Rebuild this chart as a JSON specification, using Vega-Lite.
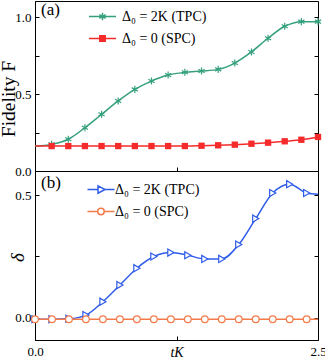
{
  "$schema": "https://vega.github.io/schema/vega-lite/v6.json",
  "padding": {"left": -3, "top": 0, "right": 0, "bottom": 0},
  "spacing": 0,
  "bounds": "flush",
  "config": {
    "font": "Liberation Serif",
    "view": {"stroke": "black", "strokeWidth": 1},
    "axis": {
      "domainColor": "black", "tickColor": "black", "labelColor": "black", "titleColor": "black",
      "labelFont": "Liberation Serif", "titleFont": "Liberation Serif", "labelFontSize": 13,
      "grid": false, "tickSize": -4, "labelPadding": 8, "domainWidth": 1, "tickWidth": 1,
      "titleFontWeight": "normal", "labelFlush": false
    },
    "legend": {
      "orient": "none", "padding": 0, "labelFont": "Liberation Serif", "labelFontSize": 14, "labelColor": "black",
      "titleFont": "Liberation Serif", "titleFontSize": 17, "titleFontWeight": "normal", "titleColor": "black",
      "titleOrient": "left", "titleAnchor": "start", "titleBaseline": "top", "symbolStrokeWidth": 1.5
    }
  },
  "datasets": {
    "fidelity": [
      {"t": 0, "F": 0.162, "series": "Δ₀ = 2K (TPC)"},
      {"t": 0.147, "F": 0.173, "series": "Δ₀ = 2K (TPC)"},
      {"t": 0.294, "F": 0.206, "series": "Δ₀ = 2K (TPC)"},
      {"t": 0.441, "F": 0.281, "series": "Δ₀ = 2K (TPC)"},
      {"t": 0.588, "F": 0.368, "series": "Δ₀ = 2K (TPC)"},
      {"t": 0.735, "F": 0.455, "series": "Δ₀ = 2K (TPC)"},
      {"t": 0.882, "F": 0.530, "series": "Δ₀ = 2K (TPC)"},
      {"t": 1.029, "F": 0.584, "series": "Δ₀ = 2K (TPC)"},
      {"t": 1.176, "F": 0.623, "series": "Δ₀ = 2K (TPC)"},
      {"t": 1.324, "F": 0.641, "series": "Δ₀ = 2K (TPC)"},
      {"t": 1.471, "F": 0.649, "series": "Δ₀ = 2K (TPC)"},
      {"t": 1.618, "F": 0.660, "series": "Δ₀ = 2K (TPC)"},
      {"t": 1.765, "F": 0.701, "series": "Δ₀ = 2K (TPC)"},
      {"t": 1.912, "F": 0.773, "series": "Δ₀ = 2K (TPC)"},
      {"t": 2.059, "F": 0.862, "series": "Δ₀ = 2K (TPC)"},
      {"t": 2.206, "F": 0.940, "series": "Δ₀ = 2K (TPC)"},
      {"t": 2.353, "F": 0.970, "series": "Δ₀ = 2K (TPC)"},
      {"t": 2.5, "F": 0.970, "series": "Δ₀ = 2K (TPC)"},
      {"t": 0, "F": 0.162, "series": "Δ₀ = 0 (SPC)"},
      {"t": 0.147, "F": 0.162, "series": "Δ₀ = 0 (SPC)"},
      {"t": 0.294, "F": 0.162, "series": "Δ₀ = 0 (SPC)"},
      {"t": 0.441, "F": 0.162, "series": "Δ₀ = 0 (SPC)"},
      {"t": 0.588, "F": 0.162, "series": "Δ₀ = 0 (SPC)"},
      {"t": 0.735, "F": 0.162, "series": "Δ₀ = 0 (SPC)"},
      {"t": 0.882, "F": 0.162, "series": "Δ₀ = 0 (SPC)"},
      {"t": 1.029, "F": 0.162, "series": "Δ₀ = 0 (SPC)"},
      {"t": 1.176, "F": 0.162, "series": "Δ₀ = 0 (SPC)"},
      {"t": 1.324, "F": 0.162, "series": "Δ₀ = 0 (SPC)"},
      {"t": 1.471, "F": 0.164, "series": "Δ₀ = 0 (SPC)"},
      {"t": 1.618, "F": 0.167, "series": "Δ₀ = 0 (SPC)"},
      {"t": 1.765, "F": 0.171, "series": "Δ₀ = 0 (SPC)"},
      {"t": 1.912, "F": 0.177, "series": "Δ₀ = 0 (SPC)"},
      {"t": 2.059, "F": 0.184, "series": "Δ₀ = 0 (SPC)"},
      {"t": 2.206, "F": 0.193, "series": "Δ₀ = 0 (SPC)"},
      {"t": 2.353, "F": 0.203, "series": "Δ₀ = 0 (SPC)"},
      {"t": 2.5, "F": 0.221, "series": "Δ₀ = 0 (SPC)"}
    ],
    "delta": [
      {"t": 0, "d": -0.007, "series": "Δ₀ = 2K  (TPC)"},
      {"t": 0.15, "d": -0.007, "series": "Δ₀ = 2K  (TPC)"},
      {"t": 0.3, "d": -0.005, "series": "Δ₀ = 2K  (TPC)"},
      {"t": 0.45, "d": 0.010, "series": "Δ₀ = 2K  (TPC)"},
      {"t": 0.6, "d": 0.065, "series": "Δ₀ = 2K  (TPC)"},
      {"t": 0.75, "d": 0.133, "series": "Δ₀ = 2K  (TPC)"},
      {"t": 0.9, "d": 0.202, "series": "Δ₀ = 2K  (TPC)"},
      {"t": 1.05, "d": 0.250, "series": "Δ₀ = 2K  (TPC)"},
      {"t": 1.2, "d": 0.266, "series": "Δ₀ = 2K  (TPC)"},
      {"t": 1.35, "d": 0.255, "series": "Δ₀ = 2K  (TPC)"},
      {"t": 1.5, "d": 0.240, "series": "Δ₀ = 2K  (TPC)"},
      {"t": 1.65, "d": 0.240, "series": "Δ₀ = 2K  (TPC)"},
      {"t": 1.8, "d": 0.299, "series": "Δ₀ = 2K  (TPC)"},
      {"t": 1.95, "d": 0.405, "series": "Δ₀ = 2K  (TPC)"},
      {"t": 2.1, "d": 0.510, "series": "Δ₀ = 2K  (TPC)"},
      {"t": 2.25, "d": 0.546, "series": "Δ₀ = 2K  (TPC)"},
      {"t": 2.4, "d": 0.510, "series": "Δ₀ = 2K  (TPC)"},
      {"t": 2.5, "d": 0.505, "series": "Δ₀ = 2K  (TPC)"},
      {"t": 0, "d": -0.007, "series": "Δ₀ = 0 (SPC)"},
      {"t": 0.15, "d": -0.007, "series": "Δ₀ = 0 (SPC)"},
      {"t": 0.3, "d": -0.007, "series": "Δ₀ = 0 (SPC)"},
      {"t": 0.45, "d": -0.007, "series": "Δ₀ = 0 (SPC)"},
      {"t": 0.6, "d": -0.007, "series": "Δ₀ = 0 (SPC)"},
      {"t": 0.75, "d": -0.007, "series": "Δ₀ = 0 (SPC)"},
      {"t": 0.9, "d": -0.007, "series": "Δ₀ = 0 (SPC)"},
      {"t": 1.05, "d": -0.007, "series": "Δ₀ = 0 (SPC)"},
      {"t": 1.2, "d": -0.007, "series": "Δ₀ = 0 (SPC)"},
      {"t": 1.35, "d": -0.007, "series": "Δ₀ = 0 (SPC)"},
      {"t": 1.5, "d": -0.007, "series": "Δ₀ = 0 (SPC)"},
      {"t": 1.65, "d": -0.007, "series": "Δ₀ = 0 (SPC)"},
      {"t": 1.8, "d": -0.007, "series": "Δ₀ = 0 (SPC)"},
      {"t": 1.95, "d": -0.007, "series": "Δ₀ = 0 (SPC)"},
      {"t": 2.1, "d": -0.007, "series": "Δ₀ = 0 (SPC)"},
      {"t": 2.25, "d": -0.007, "series": "Δ₀ = 0 (SPC)"},
      {"t": 2.4, "d": -0.007, "series": "Δ₀ = 0 (SPC)"},
      {"t": 2.5, "d": -0.007, "series": "Δ₀ = 0 (SPC)"}
    ]
  },
  "resolve": {"scale": {"color": "independent"}},
  "vconcat": [
    {
      "width": 283,
      "height": 170,
      "data": {"name": "fidelity"},
      "encoding": {
        "x": {"field": "t", "type": "quantitative", "scale": {"domain": [0, 2.5], "nice": false, "zero": false},
              "axis": {"values": [0, 1.25, 2.5], "labels": false, "title": null}}
      },
      "layer": [
        {
          "mark": {"type": "line", "interpolate": "monotone", "strokeWidth": 1.5},
          "encoding": {
            "y": {"field": "F", "type": "quantitative", "scale": {"domain": [0, 1.104], "nice": false, "zero": false},
                  "axis": {"values": [0, 0.25, 0.5, 0.75, 1], "labelExpr": "datum.value == 0.25 || datum.value == 0.75 ? '' : format(datum.value, '.1f')",
                           "title": "Fidelity F", "titleFontSize": 19.5, "titleX": -17, "titleY": 97.5, "titleBaseline": "bottom"}},
            "color": {"field": "series", "type": "nominal",
                      "scale": {"domain": ["Δ₀ = 2K (TPC)", "Δ₀ = 0 (SPC)"], "range": ["#35a07e", "#f52a2a"]},
                      "legend": {"legendX": 6, "legendY": 1, "title": "(a)", "titlePadding": 28,
                                 "symbolSize": 529, "labelOffset": 5, "rowPadding": -1,
                                 "encode": {"symbols": {"update": {
                                   "shape": {"signal": "indexof(datum.value, 'TPC') >= 0 ? 'M-1,0H1M0,-0.27V0.27M-0.23,-0.135L0.23,0.135M-0.23,0.135L0.23,-0.135' : 'M-1,0H1M-0.2,-0.2H0.2V0.2H-0.2Z'"},
                                   "fill": {"signal": "indexof(datum.value, 'TPC') >= 0 ? 'transparent' : '#f52a2a'"},
                                   "size": {"value": 729},
                                   "opacity": {"value": 1}
                                 }}}}}
          }
        },
        {
          "transform": [{"filter": "datum.t > 0 && indexof(datum.series, 'TPC') >= 0"}],
          "mark": {"type": "point", "shape": "M0,-1V1M-0.87,-0.5L0.87,0.5M-0.87,0.5L0.87,-0.5", "filled": false, "stroke": "#35a07e", "strokeWidth": 1.2, "opacity": 1, "size": 50},
          "encoding": {
            "y": {"field": "F", "type": "quantitative", "axis": null}
          }
        },
        {
          "transform": [{"filter": "datum.t > 0 && indexof(datum.series, 'SPC') >= 0"}],
          "mark": {"type": "point", "shape": "square", "filled": true, "fill": "#f52a2a", "opacity": 1, "size": 40},
          "encoding": {
            "y": {"field": "F", "type": "quantitative", "axis": null}
          }
        },
        {
          "mark": {"type": "point", "opacity": 0},
          "encoding": {
            "y": {"field": "F", "type": "quantitative",
                  "axis": {"orient": "right", "labels": false, "title": null, "domain": false, "values": [0, 0.25, 0.5, 0.75, 1]}}
          }
        }
      ],
      "resolve": {"axis": {"y": "independent"}}
    },
    {
      "width": 283,
      "height": 169,
      "data": {"name": "delta"},
      "encoding": {
        "x": {"field": "t", "type": "quantitative", "scale": {"domain": [0, 2.5], "nice": false, "zero": false},
              "axis": {"values": [0, 1.25, 2.5], "labelExpr": "datum.value == 1.25 ? '' : format(datum.value, '.1f')", "labelPadding": 9.5,
                       "title": "tK", "titleFontStyle": "italic", "titleFontSize": 14, "titleY": 16, "titleBaseline": "alphabetic"}}
      },
      "layer": [
        {
          "mark": {"type": "line", "interpolate": "monotone", "strokeWidth": 1.5},
          "encoding": {
            "y": {"field": "d", "type": "quantitative", "scale": {"domain": [-0.092, 0.6], "nice": false, "zero": false},
                  "axis": {"values": [0, 0.25, 0.5], "labelExpr": "datum.value == 0.25 ? '' : format(datum.value, '.1f')",
                           "title": "δ", "titleFontSize": 19, "titleFontStyle": "italic", "titleX": -8, "titleY": 86, "titleBaseline": "bottom"}},
            "color": {"field": "series", "type": "nominal",
                      "scale": {"domain": ["Δ₀ = 2K  (TPC)", "Δ₀ = 0 (SPC)"], "range": ["#2f5ce8", "#f47a4a"]},
                      "legend": {"legendX": 6, "legendY": 4, "title": "(b)", "titlePadding": 25.5,
                                 "symbolSize": 1225, "labelOffset": -0.5, "rowPadding": -13,
                                 "encode": {"symbols": {"update": {
                                   "shape": {"signal": "indexof(datum.value, 'TPC') >= 0 ? 'M-1,0H-0.22M0.3,0H1M-0.22,-0.27L0.3,0L-0.22,0.27Z' : 'M-1,0H-0.24M0.24,0H1M-0.24,0A0.24,0.24 0 1 0 0.24,0A0.24,0.24 0 1 0 -0.24,0Z'"},
                                   "fill": {"value": "white"},
                                   "size": {"value": 729},
                                   "opacity": {"value": 1}
                                 }}}}}
          }
        },
        {
          "transform": [{"filter": "datum.t < 2.45 && indexof(datum.series, 'TPC') >= 0"}],
          "mark": {"type": "point", "shape": "triangle-right", "filled": false, "fill": "white", "stroke": "#2f5ce8", "strokeWidth": 1.2, "opacity": 1, "size": 50},
          "encoding": {
            "y": {"field": "d", "type": "quantitative", "axis": null}
          }
        },
        {
          "transform": [{"filter": "datum.t < 2.45 && indexof(datum.series, 'SPC') >= 0"}],
          "mark": {"type": "point", "shape": "circle", "filled": false, "fill": "white", "stroke": "#f47a4a", "strokeWidth": 1.2, "opacity": 1, "size": 45},
          "encoding": {
            "y": {"field": "d", "type": "quantitative", "axis": null}
          }
        },
        {
          "mark": {"type": "point", "opacity": 0},
          "encoding": {
            "y": {"field": "d", "type": "quantitative",
                  "axis": {"orient": "right", "labels": false, "title": null, "domain": false, "values": [0, 0.25, 0.5]}}
          }
        }
      ],
      "resolve": {"axis": {"y": "independent"}}
    }
  ]
}
